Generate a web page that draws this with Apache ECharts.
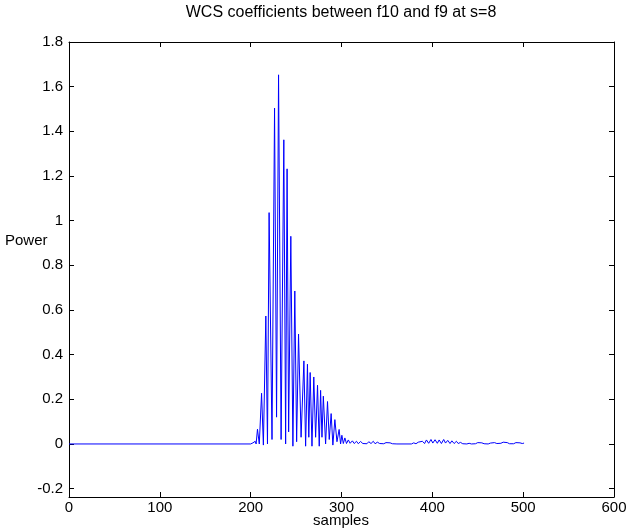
<!DOCTYPE html>
<html>
<head>
<meta charset="utf-8">
<title>WCS coefficients</title>
<script src="https://cdn.jsdelivr.net/npm/echarts@6/dist/echarts.min.js"></script>
<style>
  html, body { margin: 0; padding: 0; background: #fff; }
  #chart { width: 628px; height: 532px; }
</style>
</head>
<body>
<div id="chart"></div>
<script>
// sample index (x) and power (y), peaks and troughs
var sampleIdx = [
  0, 200, 201, 202.5, 203.5, 205, 206, 207.5, 209.5, 212, 214, 216.7, 218.5,
  220.3, 223.5, 226.3, 228.5, 230.7, 233.5, 236.5, 238.5, 240.1, 241.8, 244.2,
  246.5, 248.6, 250.6, 252.7, 255.5, 258.6, 260.5, 262.5, 264, 265.5, 267.5,
  269.5, 271.5, 273.6, 275.5, 277, 278.5, 280, 282.5, 284.6, 286.5, 288.6,
  290.5, 292.7, 295, 297.4, 299, 300.4, 302, 303.7,
  305.5, 307.5, 309.5, 312, 314, 316.5, 318.5, 321, 323.5, 325.5, 328, 330,
  332.5, 335, 337, 339.5, 342, 344, 346.5, 349, 351, 353.5, 356, 358, 361,
  377, 379.5, 382, 384.5, 386.5, 389, 391.5, 393.5, 396, 398.5, 400.5, 403,
  405.5, 407.5, 410, 412.5, 414.5, 417, 419.5, 421.5, 424, 426.5, 428.5, 431,
  433.5, 435.5, 438, 440.5, 443, 445, 447.5, 450, 452, 454.5, 457, 459, 461.5,
  464, 466, 468.5, 471, 473, 475.5, 478, 480, 482.5, 485, 487, 489.5, 492,
  494, 496.5, 499, 501
];
var power = [
  0, 0, 0, 0.005, 0, 0.012, 0, 0.066, 0, 0.227, -0.005, 0.573, 0,
  1.036, 0.02, 1.504, 0.12, 1.653, 0.02, 1.362, 0, 1.232, 0.054, 0.93,
  -0.01, 0.685, 0.01, 0.492, 0.03, 0.372, -0.01, 0.357, 0.03, 0.32, -0.01,
  0.30, 0.03, 0.263, -0.01, 0.24, 0.03, 0.214, 0.0, 0.19, 0.02, 0.136,
  -0.005, 0.109, 0.01, 0.065, 0.0, 0.039, 0.002, 0.027,
  0.002, 0.018, 0.003, 0.014, 0.002, 0.012, 0.001, 0.011, 0.002, 0.01, 0.001, 0.01,
  0.002, 0.012, 0.001, 0.008, 0.002, 0.007, 0.001, 0.006, 0.002, 0.005, 0.001, 0.004, 0,
  0, 0.005, 0.001, 0.008, 0, 0.012, 0.002, 0.018, 0.003, 0.02, 0.004, 0.019,
  0.003, 0.018, 0.002, 0.02, 0.004, 0.016, 0.002, 0.014, 0.002, 0.012, 0.002, 0.007,
  0.001, 0.004, 0, 0.003, 0, 0.005, 0.001, 0.006, 0.001, 0.005, 0.001, 0.004, 0,
  0.004, 0.001, 0.006, 0.002, 0.007, 0.003, 0.008, 0.003, 0.006, 0.001, 0.005, 0.001, 0.006,
  0.002, 0.005, 0.002, 0.004
];
var xTicks = [0, 100, 200, 300, 400, 500, 600];
var yTicks = [-0.2, 0, 0.2, 0.4, 0.6, 0.8, 1, 1.2, 1.4, 1.6, 1.8];

var fontName = '"Liberation Sans", Arial, sans-serif';
var fontSz = 15;

var lineData = [];
for (var i = 0; i < sampleIdx.length; i++) {
  lineData.push([sampleIdx[i], power[i]]);
}

var myChart = echarts.init(document.getElementById('chart'), null, { renderer: 'canvas' });

var boxLine = { show: true, onZero: false, lineStyle: { color: '#000', width: 1 } };
var tickIn = { show: true, inside: true, length: 5, lineStyle: { color: '#000' } };
// the frame in the picture runs a little below the -0.2 tick
var yLow = -0.2375;

var option = {
  animation: false,
  backgroundColor: '#fff',
  textStyle: { fontFamily: fontName, color: '#000' },
  grid: { left: 69, right: 14, top: 42, bottom: 35, containLabel: false, outerBoundsMode: 'none' },
  graphic: [
    {
      type: 'text', x: 341, y: 5,
      style: { text: 'WCS coefficients between f10 and f9 at s=8',
        textAlign: 'center', textVerticalAlign: 'top', fill: '#000', font: '16px ' + fontName }
    },
    {
      type: 'text', x: 5, y: 233,
      style: { text: 'Power', textVerticalAlign: 'top', fill: '#000', font: fontSz + 'px ' + fontName }
    },
    {
      type: 'text', x: 341, y: 513,
      style: { text: 'samples', textAlign: 'center', textVerticalAlign: 'top', fill: '#000', font: fontSz + 'px ' + fontName }
    }
  ],
  xAxis: [
    {
      type: 'value', min: xTicks[0], max: xTicks[xTicks.length - 1], interval: 100, position: 'bottom',
      axisLine: boxLine,
      axisTick: tickIn,
      axisLabel: { color: '#000', fontSize: fontSz, fontFamily: fontName, margin: 3 },
      splitLine: { show: false }
    },
    {
      type: 'value', min: xTicks[0], max: xTicks[xTicks.length - 1], interval: 100, position: 'top',
      axisLine: boxLine,
      axisTick: tickIn,
      axisLabel: { show: false },
      splitLine: { show: false }
    }
  ],
  yAxis: [
    {
      type: 'value', min: yLow, max: yTicks[yTicks.length - 1], position: 'left',
      axisLine: boxLine,
      axisTick: { show: true, inside: true, length: 5, customValues: yTicks, lineStyle: { color: '#000' } },
      axisLabel: { color: '#000', fontSize: fontSz, fontFamily: fontName, margin: 6,
        customValues: yTicks },
      splitLine: { show: false }
    },
    {
      type: 'value', min: yLow, max: yTicks[yTicks.length - 1], position: 'right',
      axisLine: boxLine,
      axisTick: { show: true, inside: true, length: 5, customValues: yTicks, lineStyle: { color: '#000' } },
      axisLabel: { show: false, customValues: yTicks },
      splitLine: { show: false }
    }
  ],
  series: [{
    type: 'line',
    data: lineData,
    xAxisIndex: 0,
    yAxisIndex: 0,
    showSymbol: false,
    symbol: 'none',
    lineStyle: { color: '#0000ff', width: 1 },
    z: 3
  }]
};
myChart.setOption(option);
</script>
</body>
</html>
